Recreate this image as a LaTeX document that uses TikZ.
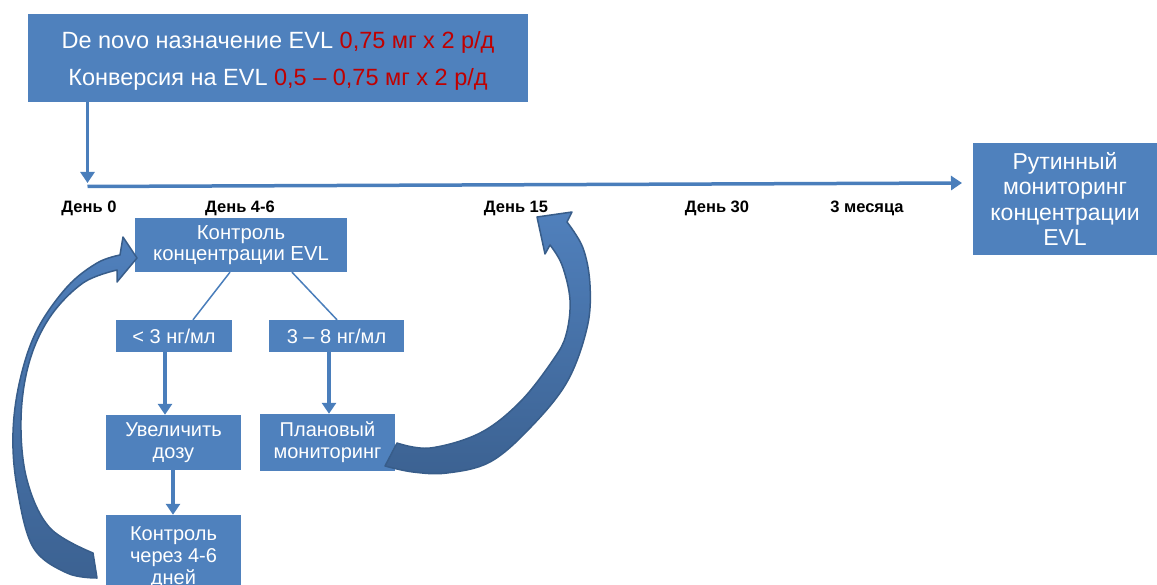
\documentclass[tikz,border=0pt]{standalone}
\usepackage{fontspec}
\setmainfont{Liberation Sans}
\usetikzlibrary{arrows.meta}
\definecolor{boxblue}{RGB}{79,129,189}
\definecolor{linblue}{RGB}{74,126,187}
\definecolor{darkred}{RGB}{192,0,0}
\definecolor{arrlight}{RGB}{80,128,188}
\definecolor{arrdark}{RGB}{60,98,146}
\definecolor{arredge}{RGB}{56,93,138}
\begin{document}
\begin{tikzpicture}[x=1pt,y=-1pt,
  box/.style={fill=boxblue,text=white,inner sep=0pt,align=center},
  boxtxt/.style={text=white,inner sep=0pt,align=center},
  daylbl/.style={font=\fontsize{16.5}{18}\selectfont\bfseries,inner sep=0pt},
  thinln/.style={draw=linblue,line width=1.5pt},
  flowarr/.style={draw=linblue,line width=3.5pt,-{Triangle[width=14pt,length=11pt]}},
  bigarr/.style={top color=arrlight,bottom color=arrdark,draw=arredge,line width=1.5pt,line join=round}]
\useasboundingbox (0,0) rectangle (1157,585);
% top box
\node[box,minimum width=500pt,minimum height=88pt] (top) at (278,58) {};
\node[boxtxt,font=\fontsize{23.5}{37}\selectfont] (toptxt) at ([yshift=-3pt]top.center)
  {De novo назначение EVL \textcolor{darkred}{0,75 мг x 2 р/д}\\Конверсия на EVL \textcolor{darkred}{0,5 – 0,75 мг x 2 р/д}};
% right box
\node[box,minimum width=184pt,minimum height=112pt,font=\fontsize{23}{25.5}\selectfont] (rout) at (1065,199)
  {Рутинный\\мониторинг\\концентрации\\EVL};
% timeline
\coordinate (t0) at (87.5,186.5);
\coordinate (tend) at (962,183);
\draw[flowarr] ([xshift=-190.5pt]top.south) -- (87.5,183);
\draw[flowarr] (t0) -- (tend);
% day labels
\node[daylbl] (d0) at (89,208) {День 0};
\node[daylbl] (d46) at (240,208) {День 4-6};
\node[daylbl] (d15) at (516,208) {День 15};
\node[daylbl] (d30) at (717,208) {День 30};
\node[daylbl] (d3m) at (867,208) {3 месяца};
% flow boxes
\node[box,minimum width=212pt,minimum height=54pt,font=\fontsize{20.3}{21.5}\selectfont] (kk) at (241,245)
  {Контроль\\концентрации EVL};
\node[box,minimum width=116pt,minimum height=32pt,font=\fontsize{20}{21}\selectfont] (lt3) at (174,336) {< 3 нг/мл};
\node[box,minimum width=135pt,minimum height=32pt,font=\fontsize{20}{21}\selectfont] (r38) at (336.5,336) {3 – 8 нг/мл};
\node[box,minimum width=135pt,minimum height=55pt,font=\fontsize{20}{22}\selectfont] (inc) at (173.5,442.5) {Увеличить\\дозу};
\node[box,minimum width=135pt,minimum height=57pt,font=\fontsize{20}{22}\selectfont] (plan) at (327.5,442.5) {Плановый\\мониторинг};
\node[box,minimum width=135pt,minimum height=86pt,font=\fontsize{20}{22}\selectfont] (ctrl) at (173.5,558) {Контроль\\через 4-6\\дней};
% connectors
\draw[thinln] ([xshift=-11pt]kk.south) -- ([xshift=19pt]lt3.north);
\draw[thinln] ([xshift=51pt]kk.south) -- ([xshift=0.5pt]r38.north);
\draw[flowarr] ([xshift=-9pt]lt3.south) -- ([xshift=-8.5pt]inc.north);
\draw[flowarr] ([xshift=-7.5pt]r38.south) -- ([xshift=1.5pt]plan.north);
\draw[flowarr] ([xshift=-0.5pt]inc.south) -- ([xshift=-0.5pt]ctrl.north);
% big curved arrows
\shadedraw[bigarr]
  plot[smooth,tension=0.6] coordinates {(97,578) (67,573) (33,547) (17,487) (13,433) (20,380) (37,330) (67,287) (97,263) (120,255)}
  -- (123,237) -- (137,258) -- (117,282) -- (117,270)
  -- plot[smooth,tension=0.6] coordinates {(117,270) (83,283) (50,317) (29,363) (21,420) (27,480) (50,528) (93,553)}
  -- cycle;
\shadedraw[bigarr]
  plot[smooth,tension=0.6] coordinates {(385,466) (413,472) (447,473) (490,462) (530,428) (567,382) (587,328) (590,285) (583,248) (567,222)}
  -- (572,212) -- (537,217) -- (545,254) -- (550,245)
  -- plot[smooth,tension=0.6] coordinates {(550,245) (562,265) (570,300) (566,335) (553,360) (520,402) (480,433) (430,448) (397,443)}
  -- cycle;
\end{tikzpicture}
\end{document}
